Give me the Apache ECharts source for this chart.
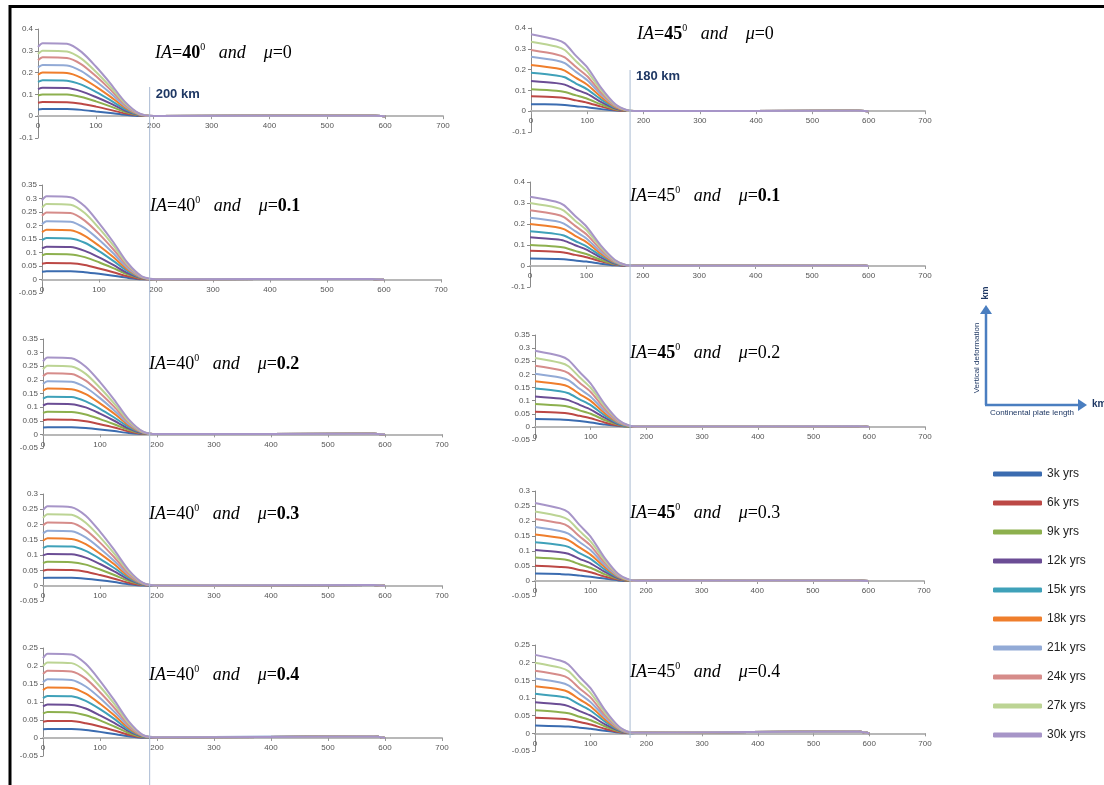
<!DOCTYPE html>
<html><head><meta charset="utf-8">
<script src="https://cdn.jsdelivr.net/npm/echarts/dist/echarts.min.js"></script>
<style>html,body{margin:0;padding:0;background:#fff}#c{width:1104px;height:785px}</style>
</head><body><div id="c"></div>
<script>
// ---------- DATA ----------
const seriesNames = ['3k yrs','6k yrs','9k yrs','12k yrs','15k yrs','18k yrs','21k yrs','24k yrs','27k yrs','30k yrs'];
// x positions (km) of the sampled points: IA=40 panels and IA=45 panels
const xsL = [0, 8, 50, 75, 100, 125, 150, 175, 200, 580, 600];
const xsR = [0, 45, 60, 80, 100, 125, 150, 170, 190, 580, 600];

// IA=40, mu=0
const ia40mu0 = [
 [0.031,0.033,0.033,0.029,0.022,0.015,0.007,0.001,0.001,0.002,0],
 [0.062,0.065,0.064,0.057,0.044,0.029,0.013,0.003,0.001,0.002,0],
 [0.095,0.100,0.099,0.088,0.068,0.045,0.020,0.004,0.001,0.002,0],
 [0.124,0.130,0.129,0.114,0.088,0.059,0.026,0.005,0.001,0.002,0],
 [0.157,0.165,0.163,0.145,0.112,0.074,0.033,0.007,0.001,0.002,0],
 [0.190,0.200,0.198,0.176,0.136,0.090,0.040,0.008,0.001,0.002,0],
 [0.223,0.235,0.233,0.207,0.160,0.106,0.047,0.009,0.001,0.002,0],
 [0.257,0.270,0.267,0.238,0.184,0.122,0.054,0.011,0.001,0.002,0],
 [0.285,0.300,0.297,0.264,0.204,0.135,0.060,0.012,0.001,0.002,0],
 [0.318,0.335,0.332,0.295,0.228,0.151,0.067,0.013,0.001,0.002,0]
];
// IA=40, mu=0.1
const ia40mu01 = [
 [0.029,0.031,0.031,0.027,0.021,0.014,0.006,0.001,0.001,0.002,0],
 [0.058,0.061,0.060,0.054,0.041,0.027,0.012,0.002,0.001,0.002,0],
 [0.089,0.094,0.093,0.083,0.064,0.042,0.019,0.004,0.001,0.002,0],
 [0.115,0.121,0.120,0.106,0.082,0.054,0.024,0.005,0.001,0.002,0],
 [0.146,0.154,0.152,0.136,0.105,0.069,0.031,0.006,0.001,0.002,0],
 [0.175,0.184,0.182,0.162,0.125,0.083,0.037,0.007,0.001,0.002,0],
 [0.205,0.216,0.214,0.190,0.147,0.097,0.043,0.009,0.001,0.002,0],
 [0.236,0.248,0.246,0.218,0.169,0.112,0.050,0.010,0.001,0.002,0],
 [0.266,0.280,0.277,0.246,0.190,0.126,0.056,0.011,0.001,0.002,0],
 [0.293,0.308,0.305,0.271,0.209,0.139,0.062,0.012,0.001,0.002,0]
];
// IA=40, mu=0.2
const ia40mu02 = [
 [0.025,0.026,0.026,0.023,0.018,0.012,0.005,0.001,0.001,0.002,0],
 [0.052,0.055,0.054,0.048,0.037,0.025,0.011,0.002,0.001,0.002,0],
 [0.079,0.083,0.082,0.073,0.056,0.037,0.017,0.003,0.001,0.002,0],
 [0.106,0.112,0.111,0.099,0.076,0.050,0.022,0.004,0.001,0.002,0],
 [0.131,0.138,0.137,0.121,0.094,0.062,0.028,0.006,0.001,0.002,0],
 [0.160,0.168,0.166,0.148,0.114,0.076,0.034,0.007,0.001,0.002,0],
 [0.185,0.195,0.193,0.172,0.133,0.088,0.039,0.008,0.001,0.002,0],
 [0.213,0.224,0.222,0.197,0.152,0.101,0.045,0.009,0.001,0.002,0],
 [0.239,0.252,0.249,0.222,0.171,0.113,0.050,0.010,0.001,0.002,0],
 [0.268,0.282,0.279,0.248,0.192,0.127,0.056,0.011,0.001,0.002,0]
];
// IA=40, mu=0.3
const ia40mu03 = [
 [0.025,0.026,0.026,0.023,0.018,0.012,0.005,0.001,0.001,0.002,0],
 [0.049,0.052,0.051,0.046,0.035,0.023,0.010,0.002,0.001,0.002,0],
 [0.074,0.078,0.077,0.069,0.053,0.035,0.016,0.003,0.001,0.002,0],
 [0.099,0.104,0.103,0.092,0.071,0.047,0.021,0.004,0.001,0.002,0],
 [0.123,0.129,0.128,0.114,0.088,0.058,0.026,0.005,0.001,0.002,0],
 [0.147,0.155,0.153,0.136,0.105,0.070,0.031,0.006,0.001,0.002,0],
 [0.171,0.180,0.178,0.158,0.122,0.081,0.036,0.007,0.001,0.002,0],
 [0.197,0.207,0.205,0.182,0.141,0.093,0.041,0.008,0.001,0.002,0],
 [0.222,0.234,0.232,0.206,0.159,0.105,0.047,0.009,0.001,0.002,0],
 [0.247,0.260,0.257,0.229,0.177,0.117,0.052,0.010,0.001,0.002,0]
];
// IA=40, mu=0.4
const ia40mu04 = [
 [0.024,0.025,0.025,0.022,0.017,0.011,0.005,0.001,0.002,0.004,0],
 [0.045,0.047,0.047,0.041,0.032,0.021,0.009,0.002,0.002,0.004,0],
 [0.068,0.072,0.071,0.063,0.049,0.032,0.014,0.003,0.002,0.004,0],
 [0.088,0.093,0.092,0.082,0.063,0.042,0.019,0.004,0.002,0.004,0],
 [0.111,0.117,0.116,0.103,0.080,0.053,0.023,0.005,0.002,0.004,0],
 [0.133,0.140,0.139,0.123,0.095,0.063,0.028,0.006,0.002,0.004,0],
 [0.155,0.163,0.161,0.143,0.111,0.073,0.033,0.007,0.002,0.004,0],
 [0.178,0.187,0.185,0.165,0.127,0.084,0.037,0.007,0.002,0.004,0],
 [0.200,0.210,0.208,0.185,0.143,0.095,0.042,0.008,0.002,0.004,0],
 [0.222,0.234,0.232,0.206,0.159,0.105,0.047,0.009,0.002,0.004,0]
];
// IA=45, mu=0
const ia45mu0 = [
 [0.034,0.032,0.030,0.024,0.019,0.010,0.003,0.001,0.001,0.002,0],
 [0.072,0.067,0.063,0.052,0.041,0.022,0.006,0.001,0.001,0.002,0],
 [0.105,0.098,0.092,0.076,0.060,0.032,0.009,0.002,0.001,0.002,0],
 [0.145,0.135,0.128,0.104,0.083,0.044,0.013,0.002,0.001,0.002,0],
 [0.185,0.172,0.163,0.133,0.105,0.056,0.017,0.003,0.001,0.002,0],
 [0.222,0.206,0.195,0.160,0.127,0.067,0.020,0.003,0.001,0.002,0],
 [0.262,0.244,0.231,0.189,0.149,0.079,0.024,0.004,0.001,0.002,0],
 [0.294,0.273,0.259,0.212,0.168,0.088,0.026,0.004,0.001,0.002,0],
 [0.334,0.311,0.294,0.240,0.190,0.100,0.030,0.005,0.001,0.002,0],
 [0.370,0.344,0.326,0.266,0.211,0.111,0.033,0.006,0.001,0.002,0]
];
// IA=45, mu=0.1
const ia45mu01 = [
 [0.036,0.033,0.032,0.026,0.021,0.011,0.003,0.001,0.001,0.002,0],
 [0.073,0.068,0.064,0.053,0.042,0.022,0.007,0.001,0.001,0.002,0],
 [0.100,0.093,0.088,0.072,0.057,0.030,0.009,0.002,0.001,0.002,0],
 [0.137,0.127,0.121,0.099,0.078,0.041,0.012,0.002,0.001,0.002,0],
 [0.165,0.153,0.145,0.119,0.094,0.050,0.015,0.002,0.001,0.002,0],
 [0.200,0.186,0.176,0.144,0.114,0.060,0.018,0.003,0.001,0.002,0],
 [0.230,0.214,0.202,0.166,0.131,0.069,0.021,0.003,0.001,0.002,0],
 [0.265,0.246,0.233,0.191,0.151,0.080,0.024,0.004,0.001,0.002,0],
 [0.300,0.279,0.264,0.216,0.171,0.090,0.027,0.005,0.001,0.002,0],
 [0.330,0.307,0.290,0.238,0.188,0.099,0.030,0.005,0.001,0.002,0]
];
// IA=45, mu=0.2
const ia45mu02 = [
 [0.030,0.028,0.026,0.022,0.017,0.009,0.003,0.000,0.001,0.002,0],
 [0.058,0.054,0.051,0.042,0.033,0.017,0.005,0.001,0.001,0.002,0],
 [0.087,0.081,0.077,0.063,0.050,0.026,0.008,0.001,0.001,0.002,0],
 [0.116,0.108,0.102,0.084,0.066,0.035,0.010,0.002,0.001,0.002,0],
 [0.146,0.136,0.128,0.105,0.083,0.044,0.013,0.002,0.001,0.002,0],
 [0.174,0.162,0.153,0.125,0.099,0.052,0.016,0.003,0.001,0.002,0],
 [0.202,0.188,0.178,0.145,0.115,0.061,0.018,0.003,0.001,0.002,0],
 [0.233,0.217,0.205,0.168,0.133,0.070,0.021,0.003,0.001,0.002,0],
 [0.262,0.244,0.231,0.189,0.149,0.079,0.024,0.004,0.001,0.002,0],
 [0.290,0.270,0.255,0.209,0.165,0.087,0.026,0.004,0.001,0.002,0]
];
// IA=45, mu=0.3
const ia45mu03 = [
 [0.025,0.023,0.022,0.018,0.014,0.008,0.002,0.000,0.001,0.002,0],
 [0.051,0.047,0.045,0.037,0.029,0.015,0.005,0.001,0.001,0.002,0],
 [0.078,0.073,0.069,0.056,0.044,0.023,0.007,0.001,0.001,0.002,0],
 [0.103,0.096,0.091,0.074,0.059,0.031,0.009,0.002,0.001,0.002,0],
 [0.129,0.120,0.114,0.093,0.074,0.039,0.012,0.002,0.001,0.002,0],
 [0.155,0.144,0.136,0.112,0.088,0.047,0.014,0.002,0.001,0.002,0],
 [0.180,0.167,0.158,0.130,0.103,0.054,0.016,0.003,0.001,0.002,0],
 [0.207,0.193,0.182,0.149,0.118,0.062,0.019,0.003,0.001,0.002,0],
 [0.232,0.216,0.204,0.167,0.132,0.070,0.021,0.003,0.001,0.002,0],
 [0.260,0.242,0.229,0.187,0.148,0.078,0.023,0.004,0.001,0.002,0]
];
// IA=45, mu=0.4
const ia45mu04 = [
 [0.022,0.020,0.019,0.016,0.013,0.007,0.002,0.000,0.002,0.005,0],
 [0.044,0.041,0.039,0.032,0.025,0.013,0.004,0.001,0.002,0.005,0],
 [0.065,0.060,0.057,0.047,0.037,0.020,0.006,0.001,0.002,0.005,0],
 [0.088,0.082,0.077,0.063,0.050,0.026,0.008,0.001,0.002,0.005,0],
 [0.112,0.104,0.099,0.081,0.064,0.034,0.010,0.002,0.002,0.005,0],
 [0.133,0.124,0.117,0.096,0.076,0.040,0.012,0.002,0.002,0.005,0],
 [0.155,0.144,0.136,0.112,0.088,0.047,0.014,0.002,0.002,0.005,0],
 [0.177,0.165,0.156,0.127,0.101,0.053,0.016,0.003,0.002,0.005,0],
 [0.200,0.186,0.176,0.144,0.114,0.060,0.018,0.003,0.002,0.005,0],
 [0.222,0.206,0.195,0.160,0.127,0.067,0.020,0.003,0.002,0.005,0]
];

// panel order: row by row, left (IA=40) then right (IA=45)
const panels = [ia40mu0, ia45mu0, ia40mu01, ia45mu01, ia40mu02, ia45mu02, ia40mu03, ia45mu03, ia40mu04, ia45mu04];
const iaValues = ['40','45','40','45','40','45','40','45','40','45'];
const muValues = ['0','0','0.1','0.1','0.2','0.2','0.3','0.3','0.4','0.4'];
const yMax  = [0.4, 0.4, 0.35, 0.4, 0.35, 0.35, 0.3, 0.3, 0.25, 0.25];
const yMin  = [-0.1, -0.1, -0.05, -0.1, -0.05, -0.05, -0.05, -0.05, -0.05, -0.05];
const yStep = [0.1, 0.1, 0.05, 0.1, 0.05, 0.05, 0.05, 0.05, 0.05, 0.05];
const xMax = 700, xStep = 100;
const markerKm = [193, 176];
const markerLabels = ['200 km', '180 km'];

// ---------- LAYOUT / STYLE ----------
const colors = ['#3b6cb0','#bc4845','#8db04e','#6b4d95','#3fa1b9','#ef7e2c','#92aad6','#d68c8a','#bcd494','#a795c8'];
const boxes = [
 {l:38, r:443, t:29, b:138},
 {l:531, r:925, t:28, b:132},
 {l:42, r:441, t:185, b:293},
 {l:530, r:925, t:182, b:287},
 {l:43, r:442, t:339, b:448},
 {l:535, r:925, t:335, b:440},
 {l:43, r:442, t:494, b:601},
 {l:535, r:924, t:491, b:596},
 {l:43, r:442, t:648, b:756},
 {l:535, r:925, t:645, b:751}
];
const titlePos = [
 {x:155,y:53, bIA:true, bMu:false},
 {x:637,y:34, bIA:true, bMu:false},
 {x:150,y:206, bIA:false, bMu:true},
 {x:630,y:196, bIA:false, bMu:true},
 {x:149,y:364, bIA:false, bMu:true},
 {x:630,y:353, bIA:true, bMu:false},
 {x:149,y:514, bIA:false, bMu:true},
 {x:630,y:513, bIA:true, bMu:false},
 {x:149,y:675, bIA:false, bMu:true},
 {x:630,y:672, bIA:false, bMu:false}
];

const chart = echarts.init(document.getElementById('c'), null, {renderer:'canvas'});
const grids = [], xAxes = [], yAxes = [], series = [];
const axisFont = {fontSize:8, color:'#555', fontFamily:'Liberation Sans'};
boxes.forEach((b, p) => {
  const h = b.b - b.t;
  const zeroOffset = h * (0 - yMin[p]) / (yMax[p] - yMin[p]);
  grids.push({left:b.l, top:b.t, width:b.r-b.l, height:h, containLabel:false});
  xAxes.push({type:'value', gridIndex:p, min:0, max:xMax, interval:xStep, position:'bottom',
    offset:-zeroOffset,
    axisLine:{onZero:false, lineStyle:{color:'#b8b8b8', width:2}},
    axisTick:{show:true, length:3, lineStyle:{color:'#999'}},
    axisLabel:Object.assign({margin:6}, axisFont), splitLine:{show:false}});
  yAxes.push({type:'value', gridIndex:p, min:yMin[p], max:yMax[p], interval:yStep[p],
    axisLine:{show:true, onZero:false, lineStyle:{color:'#8a8a8a', width:1}},
    axisTick:{show:true, length:3, lineStyle:{color:'#8a8a8a'}},
    axisLabel:Object.assign({margin:5}, axisFont), splitLine:{show:false}});
  const xs = (p % 2 === 0) ? xsL : xsR;
  panels[p].forEach((vals, s) => {
    series.push({name:seriesNames[s], type:'line', xAxisIndex:p, yAxisIndex:p,
      data: xs.map((x, i) => [x, vals[i]]),
      showSymbol:false, smooth:0.25, silent:true,
      lineStyle:{width:2, color:colors[s]}, itemStyle:{color:colors[s]}, z:2+s/20});
  });
});

function titleText(p){
  const t = titlePos[p];
  return '{i|IA}{n|=}{' + (t.bIA?'nb':'n') + '|' + iaValues[p] + '}{sup|0}{n|   }{i|and}{n|    }{i|μ}{n|=}{' + (t.bMu?'nb':'n') + '|' + muValues[p] + '}';
}
const serif = 'Liberation Serif, Times New Roman, serif';
const richTitle = {
  i:{fontFamily:serif, fontStyle:'italic', fontSize:18, lineHeight:22, fill:'#000'},
  n:{fontFamily:serif, fontSize:18, lineHeight:22, fill:'#000'},
  nb:{fontFamily:serif, fontSize:18, fontWeight:'bold', lineHeight:22, fill:'#000'},
  sup:{fontFamily:serif, fontSize:10, lineHeight:22, verticalAlign:'top', fill:'#000'}
};

const legendFont = 'Liberation Sans, Arial, sans-serif';
const option = {
  animation:false,
  backgroundColor:'#ffffff',
  color:colors,
  grid:grids, xAxis:xAxes, yAxis:yAxes, series:series,
  legend:{orient:'vertical', left:988, top:462, itemWidth:49, itemHeight:5, itemGap:15,
    icon:'roundRect', data:seriesNames, selectedMode:false,
    textStyle:{fontSize:12, lineHeight:14, color:'#222', fontFamily:legendFont}}
};
chart.setOption(option);

// overlay graphics: titles, frame, reference lines, axes sketch
const g = [];
titlePos.forEach((t, p) => {
  g.push({type:'text', x:t.x, y:t.y, style:{text:titleText(p), rich:richTitle, verticalAlign:'middle', align:'left'}, z:50});
});
// frame
g.push({type:'line', shape:{x1:10, y1:5, x2:10, y2:785}, style:{stroke:'#000', lineWidth:3}, z:60});
g.push({type:'line', shape:{x1:9, y1:6.5, x2:1104, y2:6.5}, style:{stroke:'#000', lineWidth:3}, z:60});
// reference lines
const pxL = chart.convertToPixel({gridIndex:0}, [markerKm[0], 0])[0];
const pxR = chart.convertToPixel({gridIndex:1}, [markerKm[1], 0])[0];
g.push({type:'line', shape:{x1:pxL, y1:87, x2:pxL, y2:785}, style:{stroke:'#a9bad2', lineWidth:1}, z:40});
g.push({type:'line', shape:{x1:pxR, y1:70, x2:pxR, y2:738}, style:{stroke:'#a9bad2', lineWidth:1}, z:40});
g.push({type:'text', x:pxL+6, y:94, style:{text:markerLabels[0], fill:'#1f3864', font:'bold 13px Liberation Sans, Arial, sans-serif', verticalAlign:'middle'}, z:50});
g.push({type:'text', x:pxR+6, y:76, style:{text:markerLabels[1], fill:'#1f3864', font:'bold 13px Liberation Sans, Arial, sans-serif', verticalAlign:'middle'}, z:50});
// axes sketch
const blue = '#4a7ec0';
g.push({type:'line', shape:{x1:986, y1:405, x2:986, y2:312}, style:{stroke:blue, lineWidth:2.5}, z:50});
g.push({type:'polygon', shape:{points:[[980,314],[986,305],[992,314]]}, style:{fill:blue}, z:50});
g.push({type:'line', shape:{x1:985, y1:405, x2:1080, y2:405}, style:{stroke:blue, lineWidth:2.5}, z:50});
g.push({type:'polygon', shape:{points:[[1078,399],[1087,405],[1078,411]]}, style:{fill:blue}, z:50});
g.push({type:'text', x:986, y:293, rotation:Math.PI/2, style:{text:'km', fill:'#1f3864', font:'bold 9px Liberation Sans, Arial, sans-serif', align:'center', verticalAlign:'middle'}, z:50});
g.push({type:'text', x:977, y:358, rotation:Math.PI/2, style:{text:'Vertical deformation', fill:'#1f3864', font:'8px Liberation Sans, Arial, sans-serif', align:'center', verticalAlign:'middle'}, z:50});
g.push({type:'text', x:1032, y:413, style:{text:'Continental plate length', fill:'#1f3864', font:'8px Liberation Sans, Arial, sans-serif', align:'center', verticalAlign:'middle'}, z:50});
g.push({type:'text', x:1092, y:404, style:{text:'km', fill:'#1f3864', font:'bold 10px Liberation Sans, Arial, sans-serif', align:'left', verticalAlign:'middle'}, z:50});
chart.setOption({graphic:g});
</script></body></html>
